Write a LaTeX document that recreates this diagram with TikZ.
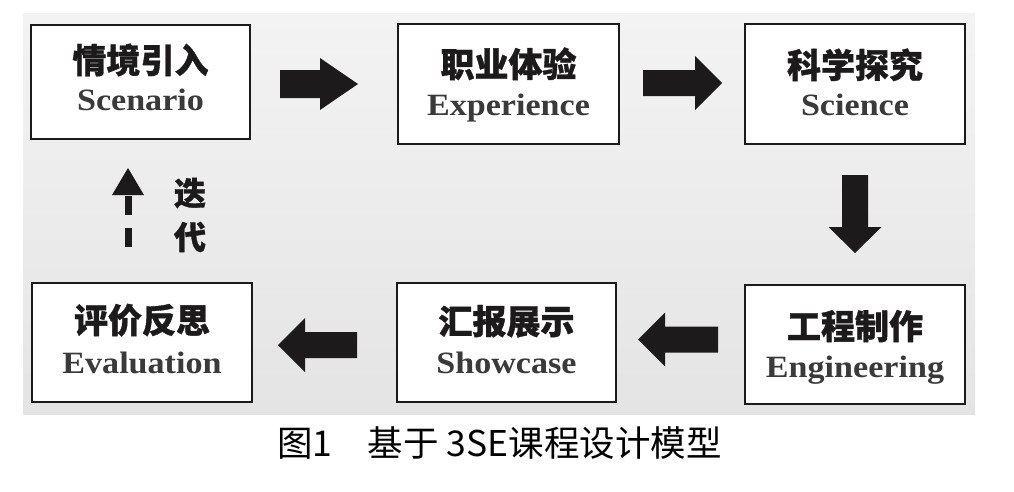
\documentclass[tikz,border=0pt]{standalone}
\usepackage{fontspec}
\setmainfont{Liberation Serif}
\newfontfamily\cjk{Noto Sans CJK SC}
\newfontfamily\cjkh{Noto Sans CJK SC}[BoldFeatures={FakeBold=1.0}]
\newfontfamily\enf{Liberation Serif}[FakeStretch=1.1]
\usetikzlibrary{calc}
\definecolor{bgtop}{RGB}{243,243,243}
\definecolor{bgbot}{RGB}{228,228,228}
\definecolor{ink}{RGB}{28,26,26}
\definecolor{engray}{RGB}{58,58,58}
% #1 start, #2 tip, #3 head length, #4 shaft half width, #5 head half width
\newcommand\fatarrow[5]{%
  \coordinate (fa-s) at #1;
  \coordinate (fa-t) at #2;
  \coordinate (fa-b) at ($(fa-t)!#3!(fa-s)$);
  \fill[arrowfill] ($(fa-s)!#4!90:(fa-t)$) -- ($(fa-b)!#4!-90:(fa-s)$) --
    ($(fa-b)!#5!-90:(fa-s)$) -- (fa-t) -- ($(fa-b)!#5!90:(fa-s)$) --
    ($(fa-b)!#4!90:(fa-s)$) -- ($(fa-s)!#4!-90:(fa-t)$) -- cycle;}
\begin{document}
\begin{tikzpicture}[x=1pt,y=-1pt,
  box/.style={draw=ink, line width=2pt, fill=white, inner sep=0pt},
  cn/.style={font=\cjkh\bfseries\fontsize{34}{34}\selectfont, text=ink, anchor=base, inner sep=0pt},
  en/.style={font=\enf\bfseries\fontsize{31}{31}\selectfont, text=engray, anchor=base, inner sep=0pt},
  arrowfill/.style={fill=ink},
  caption/.style={font=\cjk\fontsize{35.5}{35.5}\selectfont, text=black, anchor=base west, inner sep=0pt}]
\useasboundingbox[fill=white] (0,0) rectangle (1014,491);
\shade[top color=bgtop, bottom color=bgbot] (23,13) rectangle (975,414);

% boxes
\node[box, minimum width=219pt, minimum height=114pt] (b1) at (140.5,82) {};
\node[box, minimum width=221pt, minimum height=120pt] (b2) at (508.5,84) {};
\node[box, minimum width=220pt, minimum height=120pt] (b3) at (855,84) {};
\node[box, minimum width=220pt, minimum height=119pt] (b4) at (142,342.5) {};
\node[box, minimum width=219pt, minimum height=119pt] (b5) at (506.5,342.5) {};
\node[box, minimum width=220pt, minimum height=119pt] (b6) at (855,344.5) {};

% texts
\node[cn] (t1c) at ($(b1.center)+(0,-9)$) {情境引入};
\node[en] (t1e) at ($(b1.center)+(0,28)$) {Scenario};
\node[cn] (t2c) at ($(b2.center)+(0,-7)$) {职业体验};
\node[en] (t2e) at ($(b2.center)+(0,31)$) {Experience};
\node[cn] (t3c) at ($(b3.center)+(0,-6)$) {科学探究};
\node[en] (t3e) at ($(b3.center)+(0,31)$) {Science};
\node[cn] (t4c) at ($(b4.center)+(0,-9.5)$) {评价反思};
\node[en] (t4e) at ($(b4.center)+(0,30.5)$) {Evaluation};
\node[cn] (t5c) at ($(b5.center)+(0,-8.5)$) {汇报展示};
\node[en] (t5e) at ($(b5.center)+(0,30.5)$) {Showcase};
\node[cn] (t6c) at ($(b6.center)+(0,-5.5)$) {工程制作};
\node[en] (t6e) at ($(b6.center)+(0,32.5)$) {Engineering};

% block arrows
\fatarrow{($(b2.west -| b1.east)+(29,0)$)}{($(b2.west)+(-39,0)$)}{38pt}{14pt}{26pt}
\fatarrow{($(b2.east)+(23,-1)$)}{($(b3.west)+(-22,-1)$)}{27pt}{13pt}{27pt}
\fatarrow{($(b3.south)+(0,30)$)}{($(b6.north)+(0,-31)$)}{26pt}{13pt}{26.5pt}
\fatarrow{($(b5.east -| b6.west)+(-26,-3)$)}{($(b5.east)+(21,-3)$)}{27pt}{13pt}{27pt}
\fatarrow{($(b5.west)+(-39,2.5)$)}{($(b4.east)+(25,2.5)$)}{27pt}{13pt}{27pt}

% dashed iteration arrow
\coordinate (us) at ($(b4.north)+(-14,-35)$);
\coordinate (ut) at ($(b1.south)+(-12.5,28)$);
\coordinate (ub) at ($(ut)!27pt!(us)$);
\draw[ink, line width=7pt, dash pattern=on 19pt off 13pt] (us) -- (ub);
\fill[arrowfill] ($(ub)!16pt!90:(us)$) -- (ut) -- ($(ub)!16pt!-90:(us)$) -- cycle;
\node[font=\cjkh\bfseries\fontsize{32}{44}\selectfont, text=ink, align=center, inner sep=0pt] (iter) at (190,215) {迭\\代};

% caption
\node[caption] (cap) at (277,456) {图1　基于 3SE课程设计模型};
\end{tikzpicture}
\end{document}
